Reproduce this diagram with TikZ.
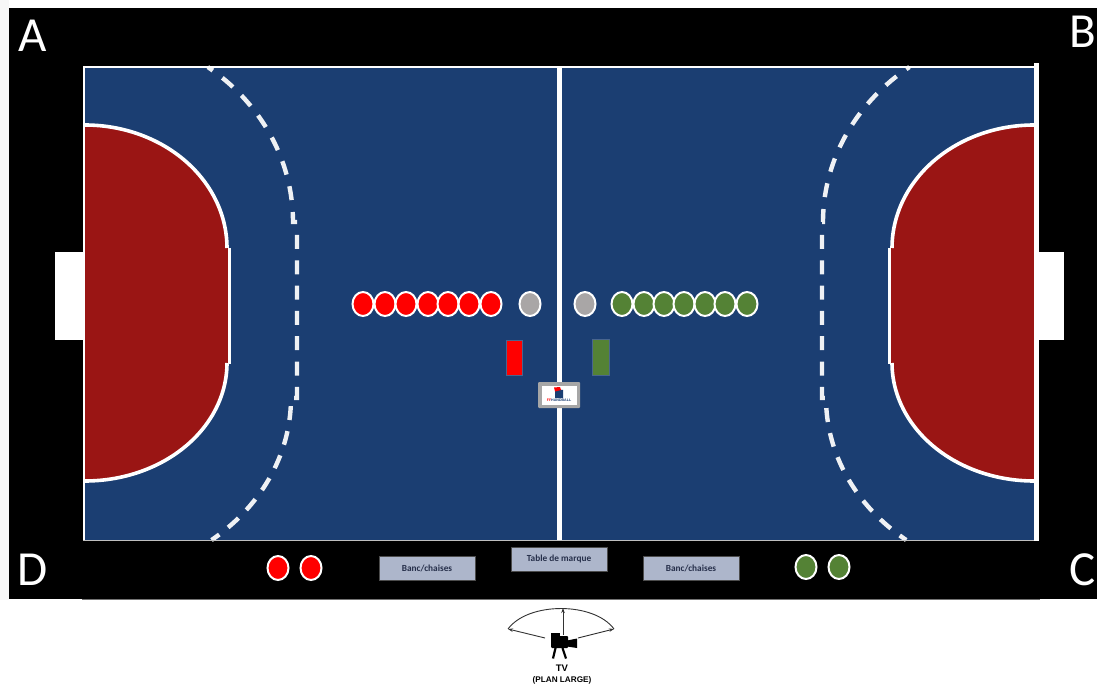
\documentclass[tikz,border=0pt]{standalone}
\usepackage{fontspec}
\setmainfont{Carlito}
\newfontfamily\lsans{Liberation Sans}
\usetikzlibrary{shapes.geometric,arrows.meta}
\definecolor{courtblue}{HTML}{1B3E72}
\definecolor{zonered}{HTML}{9A1514}
\definecolor{teamred}{HTML}{FF0000}
\definecolor{teamgreen}{HTML}{548235}
\definecolor{refgrey}{HTML}{A9A6A6}
\definecolor{boxgrey}{HTML}{ADB6CB}
\definecolor{boxtext}{HTML}{262F4A}
\definecolor{dashwhite}{HTML}{EFF1F4}
\tikzset{
  player/.style={ellipse,draw=white,line width=2pt,minimum width=21pt,minimum height=24pt,inner sep=0pt},
  redp/.style={player,fill=teamred},
  greenp/.style={player,fill=teamgreen},
  greyp/.style={player,fill=refgrey},
  benchbox/.style={rectangle,fill=boxgrey,draw=black!70,line width=.4pt,minimum width=96pt,minimum height=24pt,inner sep=0pt,text=boxtext,font=\bfseries\fontsize{9.3}{10}\selectfont},
  corner/.style={text=white,font=\fontsize{49}{50}\selectfont,inner sep=0pt,anchor=base},
  campen/.style={draw=black!80,line width=.9pt},
  camarrow/.style={campen,-{Stealth[length=5pt,width=3.5pt]}},
}
% one half of the court, drawn from the left goal line
\newcommand{\halfcourt}[2]{%
  \fill[zonered] (85,125)
    -- plot[domain=90:0,samples=60,variable=\t] ({85+142*cos(\t)},{248-123*sin(\t)})
    -- (229,248) -- (229,363) -- (227,363)
    -- plot[domain=0:-90,samples=60,variable=\t] ({85+142*cos(\t)},{363-118*sin(\t)}) -- cycle;
  \draw[white,line width=3.6pt] plot[domain=90:0,samples=60,variable=\t] ({85+142*cos(\t)},{248-123*sin(\t)});
  \draw[white,line width=3.6pt] plot[domain=0:-90,samples=60,variable=\t] ({85+142*cos(\t)},{363-118*sin(\t)});
  \draw[white,line width=3.6pt] (229.5,248) -- (229.5,364);
  \draw[dashwhite,line width=4.4pt,dash pattern=on 14pt off 12pt]
    (297,222) -- ({85+#1},222)
    -- plot[domain=0:53.8,samples=60,variable=\t] ({85+#1*cos(\t)},{222-192*sin(\t)});
  \draw[dashwhite,line width=4.4pt,dash pattern=on 14pt off 11.3pt]
    (297,235) -- (297,398) -- ({85+#2},398)
    -- plot[domain=0:52.1,samples=60,variable=\t] ({85+#2*cos(\t)},{398+180*sin(\t)});
}
\begin{document}
\begin{tikzpicture}[x=1pt,y=-1pt]
\useasboundingbox (0,0) rectangle (1097,684);
\clip (0,0) rectangle (1097,684);
% page and surround
\fill[white] (0,0) rectangle (1097,684);
\fill[black!3] (0,0) rectangle (9,600);
\fill[black] (9,8) rectangle (1097,598.5);
\fill[black] (82,598) rectangle (1040,599);
\draw[black!55,line width=.6pt] (82,599.4) -- (1040,599.4);
% goals
\fill[white] (55,252) rectangle (85,340);
\fill[white] (1038,252) rectangle (1064,340);
% court
\fill[courtblue] (85,68) rectangle (1034,540);
\begin{scope}[shift={(1119,0)},xscale=-1]
  \halfcourt{211}{208}
\end{scope}
\halfcourt{208}{206}
% court lines
\fill[white] (82.7,65.7) rectangle (85.2,540);
\fill[white] (82.7,65.7) rectangle (1038.6,68.2);
\fill[white] (1034,63) rectangle (1038.6,540.6);
\fill[black!25] (82.7,539.6) rectangle (1034,540.8);
\draw[white,line width=4.5pt] (559.7,68) -- (559.7,540);
% players on court
\foreach \n/\x in {1/363,2/385,3/406,4/428,5/448,6/469,7/491}
  \node[redp] (r\n) at (\x,304) {};
\node[greyp] (g1) at (530,304) {};
\node[greyp] (g2) at (585,304) {};
\foreach \n/\x in {1/622,2/644,3/664,4/684,5/705,6/725,7/747}
  \node[greenp] (v\n) at (\x,304) {};
% officials
\fill[teamred,draw=courtblue!80!white,line width=.5pt] (506,340) rectangle (522,375);
\fill[teamgreen,draw=courtblue!80!white,line width=.5pt] (592.5,339) rectangle (609,375);
% logo
\fill[black!35,rounded corners=1pt] (538,382) rectangle (580,408);
\fill[white] (541.5,386) rectangle (576.5,404.5);
\fill[courtblue] (555,389) -- (563,390) -- (563,398) -- (555,398) -- cycle;
\fill[teamred] (554,387.5) -- (560,387) -- (561,390) -- (555,391.5) -- cycle;
\node[inner sep=0pt,font=\lsans\bfseries\fontsize{3.6}{4}\selectfont] (logotext) at (559,400.5) {\textcolor{teamred}{FF}\textcolor{courtblue}{HANDBALL}};
% bench row
\node[redp] (b1) at (278,568) {};
\node[redp] (b2) at (311,568) {};
\node[greenp] (b3) at (806,567) {};
\node[greenp] (b4) at (839,567) {};
\node[benchbox] (bancl) at (427,568) {Banc/chaises};
\node[benchbox] (table) at (559,559) {Table de marque};
\node[benchbox] (bancr) at (691,568) {Banc/chaises};
% corners
\node[corner] (A) at (33,52) {A};
\node[corner] (B) at (1083,48) {B};
\node[corner] (C) at (1083,585) {C};
\node[corner] (D) at (33,585) {D};
% camera
\coordinate (tipl) at (508,629);
\coordinate (tipr) at (614,629);
\coordinate (tipu) at (563,608);
\coordinate (basel) at (545,638);
\coordinate (baser) at (578,638);
\coordinate (baseu) at (563,635);
\draw[campen] (tipl) .. controls (528,601.7) and (594,601.7) .. (tipr);
\draw[camarrow] (basel) -- (tipl);
\draw[camarrow] (baser) -- (tipr);
\draw[camarrow] (baseu) -- (tipu);
\fill[black] (551,633) rectangle (560,637);
\fill[black,rounded corners=1pt] (551,636) rectangle (568,648);
\fill[black] (567,640.5) -- (577,638.5) -- (577,648) -- (567,646.5) -- cycle;
\draw[black,line width=2.2pt] (555.5,648) -- (553,658.5);
\draw[black,line width=2.2pt] (562.5,648) -- (566,658.5);
\node[inner sep=0pt,font=\lsans\bfseries\fontsize{9.5}{10}\selectfont] (tv) at (562,668.5) {TV};
\node[inner sep=0pt,font=\lsans\bfseries\fontsize{8.2}{9}\selectfont] (plan) at (562,680.5) {(PLAN LARGE)};
\end{tikzpicture}
\end{document}
